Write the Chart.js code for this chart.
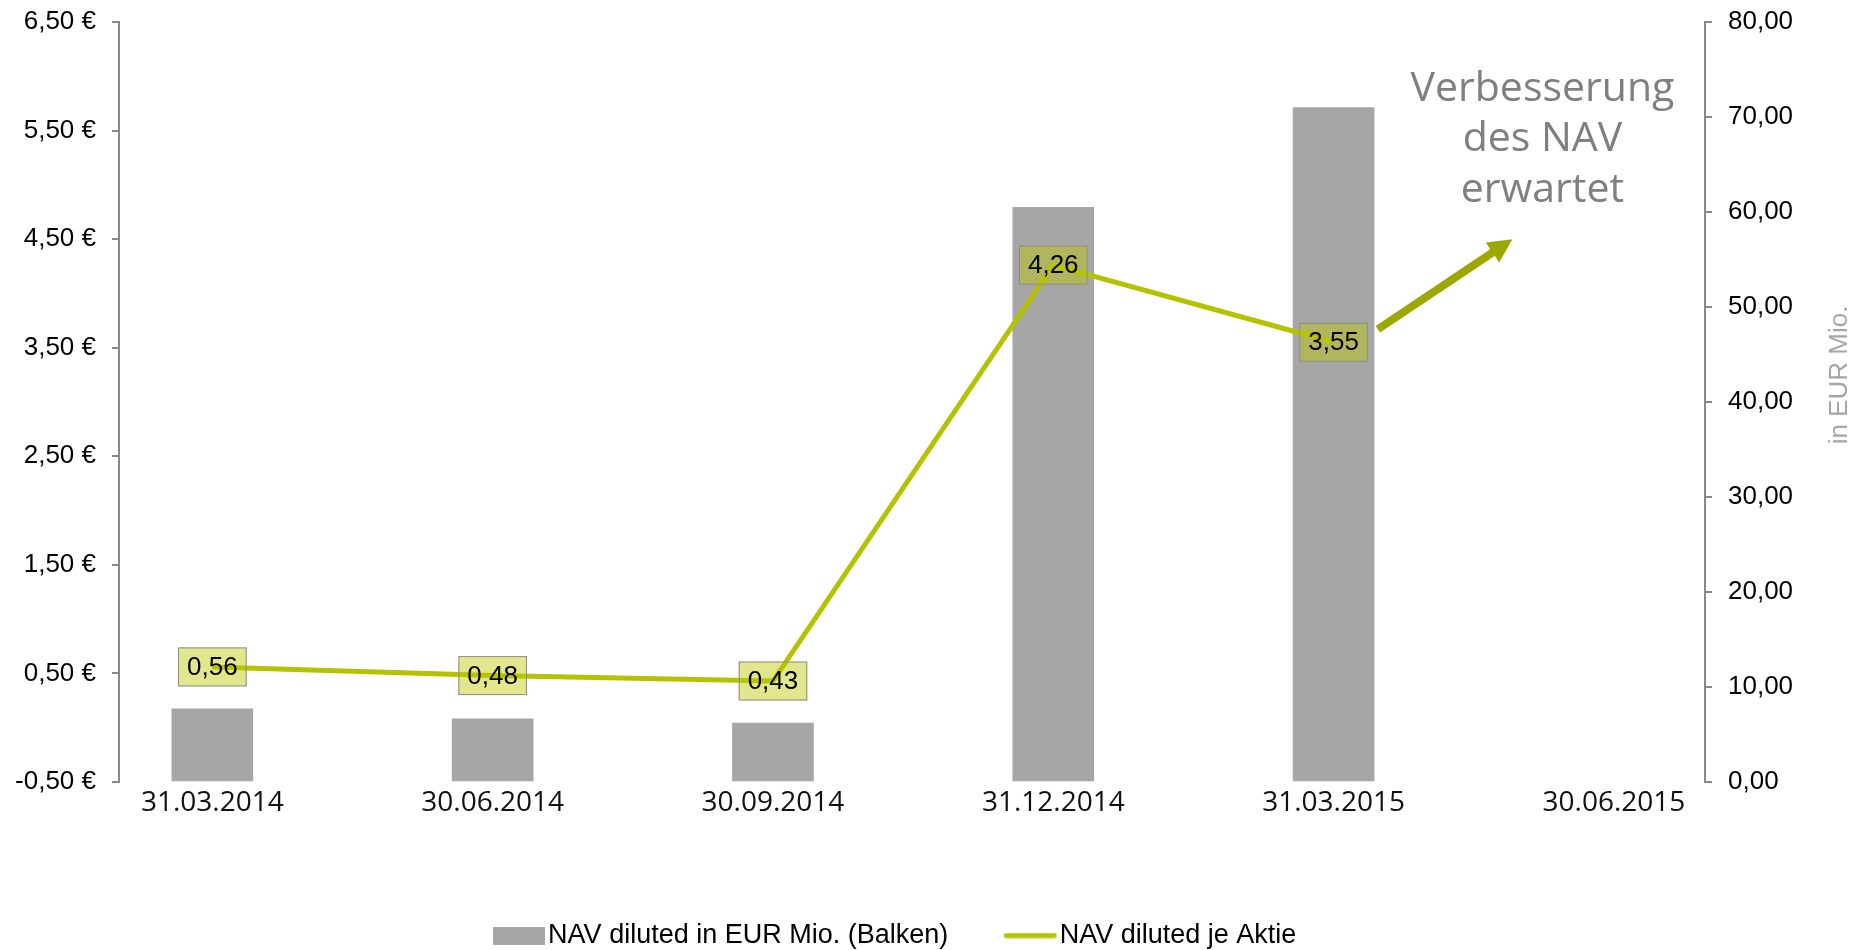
<!DOCTYPE html>
<html>
<head>
<meta charset="utf-8">
<title>NAV diluted</title>
<script src="https://cdn.jsdelivr.net/npm/chart.js@4.4.0/dist/chart.umd.min.js"></script>
<style>
  html, body { margin: 0; padding: 0; background: #fff; }
  canvas { display: block; }
</style>
</head>
<body>
<canvas id="navChart" width="1865" height="950"></canvas>
<script>
"use strict";

var categories = ['31.03.2014', '30.06.2014', '30.09.2014', '31.12.2014', '31.03.2015', '30.06.2015'];
var navMio = [7.7, 6.65, 6.2, 60.5, 71.0];          // bars, right axis (EUR Mio.)
var navPerShare = [0.56, 0.48, 0.43, 4.26, 3.55];   // line, left axis (EUR)

// annotation, in axis units (x = category index, y = left axis)
var noteLines = ['Verbesserung', 'des NAV', 'erwartet'];
var noteAt = { x: 4.745, y: 5.88 };
var arrowFrom = { x: 4.158, y: 3.67 };
var arrowTo = { x: 4.638, y: 4.5 };

var lineColor = '#b5c200';
var barColor = '#a6a6a6';
var axisColor = '#888888';
var sansFont = '"Liberation Sans", Arial, sans-serif';

Chart.defaults.font.family = sansFont;

function comma(v) { return Number(v).toFixed(2).replace('.', ','); }
function euro(v) { return comma(v) + ' €'; }
function points(values) {
    return values.map(function (v, i) { return { x: i, y: v }; });
}

// small canvases used as legend symbols (so the text can sit close to them)
function swatch(w, h, paint) {
    var c = document.createElement('canvas');
    c.width = w;
    c.height = h;
    paint(c.getContext('2d'));
    return c;
}
var barSwatch = swatch(52, 18, function (g) {
    g.fillStyle = barColor;
    g.fillRect(0, 0, 52, 18);
});
var lineSwatch = swatch(54, 6, function (g) {
    g.strokeStyle = lineColor;
    g.lineWidth = 5;
    g.lineCap = 'round';
    g.beginPath();
    g.moveTo(3, 3);
    g.lineTo(51, 3);
    g.stroke();
});

// boxed value labels on the line points
var valueBoxes = {
    id: 'valueBoxes',
    afterDatasetsDraw: function (chart) {
        var ctx = chart.ctx;
        var meta = chart.getDatasetMeta(1);
        ctx.save();
        ctx.font = '26px ' + sansFont;
        ctx.textAlign = 'center';
        ctx.textBaseline = 'middle';
        meta.data.forEach(function (pt, i) {
            var txt = comma(navPerShare[i]);
            var w = ctx.measureText(txt).width + 18, h = 39;
            ctx.fillStyle = 'rgba(190, 200, 0, 0.45)';
            ctx.fillRect(pt.x - w / 2, pt.y - h / 2, w, h);
            ctx.strokeStyle = '#8c8c8c';
            ctx.lineWidth = 1;
            ctx.strokeRect(pt.x - w / 2 + 0.5, pt.y - h / 2 + 0.5, w - 1, h - 1);
            ctx.fillStyle = '#000';
            ctx.fillText(txt, pt.x, pt.y + 1);
        });
        ctx.restore();
    }
};

// arrow, note text and the right axis title
var extras = {
    id: 'extras',
    afterLayout: function (chart) {
        // legend sits a little left of the canvas centre
        chart.legend.left -= 33;
        chart.legend.right -= 33;
    },
    afterDraw: function (chart) {
        var ctx = chart.ctx, sx = chart.scales.x, sy = chart.scales.y, area = chart.chartArea;
        var x0 = sx.getPixelForValue(arrowFrom.x), y0 = sy.getPixelForValue(arrowFrom.y);
        var x1 = sx.getPixelForValue(arrowTo.x), y1 = sy.getPixelForValue(arrowTo.y);
        var a = Math.atan2(y1 - y0, x1 - x0), head = 24, half = 12;
        ctx.save();
        ctx.strokeStyle = '#9ca800';
        ctx.fillStyle = '#9ca800';
        ctx.lineWidth = 8;
        ctx.beginPath();
        ctx.moveTo(x0, y0);
        ctx.lineTo(x1 - Math.cos(a) * head * 0.8, y1 - Math.sin(a) * head * 0.8);
        ctx.stroke();
        var bx = x1 - Math.cos(a) * head, by = y1 - Math.sin(a) * head;
        ctx.beginPath();
        ctx.moveTo(x1, y1);
        ctx.lineTo(bx + Math.sin(a) * half, by - Math.cos(a) * half);
        ctx.lineTo(bx - Math.sin(a) * half, by + Math.cos(a) * half);
        ctx.closePath();
        ctx.fill();

        ctx.fillStyle = '#7f7f7f';
        ctx.font = '41px "Open Sans", sans-serif';
        ctx.textAlign = 'center';
        ctx.textBaseline = 'middle';
        var tx = sx.getPixelForValue(noteAt.x), ty = sy.getPixelForValue(noteAt.y);
        noteLines.forEach(function (line, i) {
            ctx.fillText(line, tx, ty + i * 50.5);
        });

        ctx.translate(area.right + 135, (area.top + area.bottom) / 2 - 27);
        ctx.rotate(-Math.PI / 2);
        ctx.fillStyle = '#a6a6a6';
        ctx.font = '26px ' + sansFont;
        ctx.fillText('in EUR Mio.', 0, 0);
        ctx.restore();
    }
};

var ctx_nav = document.getElementById('navChart').getContext('2d');

var navChart = new Chart(ctx_nav, {
    type: 'bar',
    data: {
        datasets: [{
            type: 'bar',
            label: 'NAV diluted in EUR Mio. (Balken)',
            data: points(navMio),
            backgroundColor: barColor,
            barThickness: 81,
            xAxisID: 'x',
            yAxisID: 'y1',
            order: 2
        }, {
            type: 'line',
            label: 'NAV diluted je Aktie',
            data: points(navPerShare),
            borderColor: lineColor,
            backgroundColor: lineColor,
            borderWidth: 5,
            pointRadius: 0,
            tension: 0,
            xAxisID: 'x',
            yAxisID: 'y',
            order: 1
        }]
    },
    options: {
        responsive: false,
        animation: false,
        layout: { padding: { top: 0, bottom: -9, left: 0, right: 0 } },
        plugins: {
            tooltip: { enabled: false },
            legend: {
                position: 'bottom',
                labels: {
                    usePointStyle: true,
                    pointStyleWidth: 32,
                    boxHeight: 18,
                    padding: 66,
                    color: '#000',
                    font: { size: 27 },
                    generateLabels: function (chart) {
                        var items = Chart.defaults.plugins.legend.labels.generateLabels(chart);
                        items.sort(function (a, b) { return a.datasetIndex - b.datasetIndex; });
                        items[0].pointStyle = barSwatch;
                        items[1].pointStyle = lineSwatch;
                        return items;
                    }
                }
            }
        },
        scales: {
            x: {
                type: 'linear',
                min: -0.333,
                max: 5.325,
                offset: false,
                grid: { display: false, drawTicks: false },
                border: { display: false },
                ticks: {
                    stepSize: 1,
                    includeBounds: false,
                    padding: 4,
                    color: '#111',
                    font: { family: '"Open Sans", sans-serif', size: 28 },
                    callback: function (v) { return categories[v]; }
                },
                afterBuildTicks: function (s) {
                    s.ticks = s.ticks.filter(function (t) {
                        return Number.isInteger(t.value) && t.value >= 0 && t.value < categories.length;
                    });
                },
                afterFit: function (s) { s.height = 74; }
            },
            y: {
                position: 'left',
                min: -0.5,
                max: 6.5,
                ticks: { stepSize: 1, padding: 16, color: '#000', font: { size: 26, lineHeight: 0.46 }, callback: euro },
                grid: { drawOnChartArea: false, tickLength: 7, color: axisColor, lineWidth: 2 },
                border: { color: axisColor, width: 2 },
                afterFit: function (s) { s.width = 119; }
            },
            y1: {
                position: 'right',
                min: 0,
                max: 80,
                ticks: { stepSize: 10, padding: 16, color: '#000', font: { size: 26, lineHeight: 0.46 }, callback: comma },
                grid: { drawOnChartArea: false, tickLength: 7, color: axisColor, lineWidth: 2 },
                border: { color: axisColor, width: 2 },
                afterFit: function (s) { s.width = 160; }
            }
        }
    },
    plugins: [valueBoxes, extras]
});
</script>
</body>
</html>
